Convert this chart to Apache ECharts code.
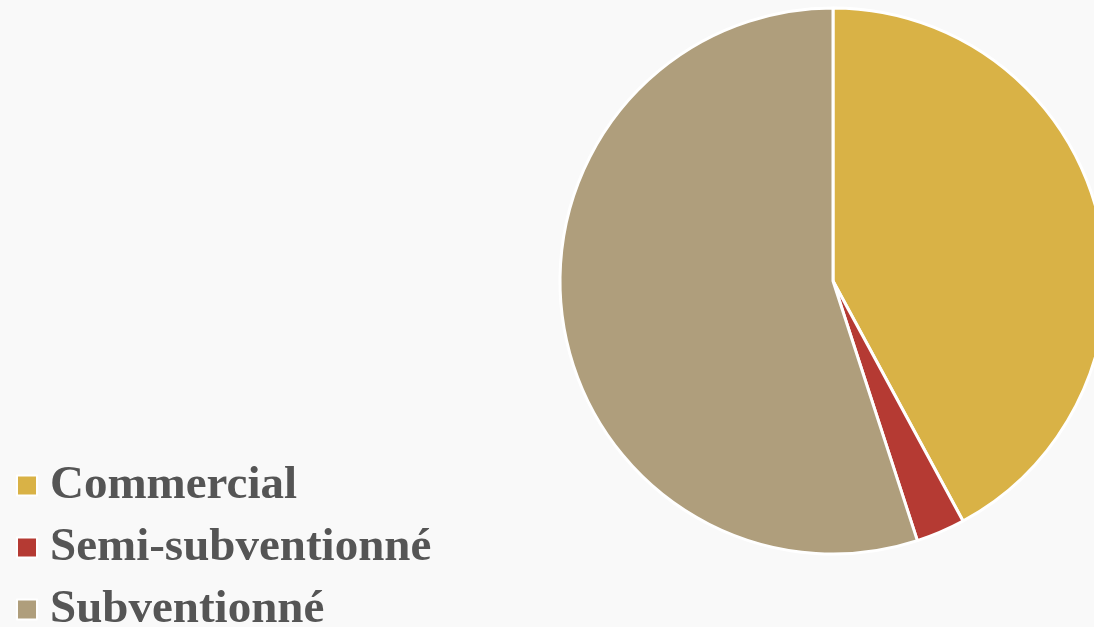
<!DOCTYPE html>
<html>
<head>
<meta charset="utf-8">
<script src="https://cdn.jsdelivr.net/npm/echarts@6/dist/echarts.min.js"></script>
<style>
  html, body { margin: 0; padding: 0; background: #f9f9f9; }
  #chart { width: 1094px; height: 627px; }
</style>
</head>
<body>
<div id="chart"></div>
<script>
var categories = ['Commercial', 'Semi-subventionné', 'Subventionné'];
var values = [42.1, 2.9, 55.0];
var colors = ['#d9b246', '#b53a33', '#af9e7c'];

var chart = echarts.init(document.getElementById('chart'));
var data = categories.map(function (name, i) {
  return { name: name, value: values[i], itemStyle: { color: colors[i] } };
});
chart.setOption({
  backgroundColor: '#f9f9f9',
  legend: {
    orient: 'vertical',
    left: 11,
    top: 457,
    height: 300,
    padding: 5,
    itemWidth: 20,
    itemHeight: 20,
    itemGap: 15,
    icon: 'rect',
    data: categories,
    textStyle: {
      fontFamily: 'Liberation Serif',
      fontWeight: 'bold',
      fontSize: 47,
      lineHeight: 40,
      color: '#555555',
      padding: [0, 0, 0, 8]
    }
  },
  series: [{
    type: 'pie',
    center: [833, 281],
    radius: [0, 273],
    startAngle: 90,
    clockwise: true,
    label: { show: false },
    labelLine: { show: false },
    itemStyle: { borderColor: '#ffffff', borderWidth: 3 },
    emphasis: { disabled: true },
    data: data
  }]
});
</script>
</body>
</html>
